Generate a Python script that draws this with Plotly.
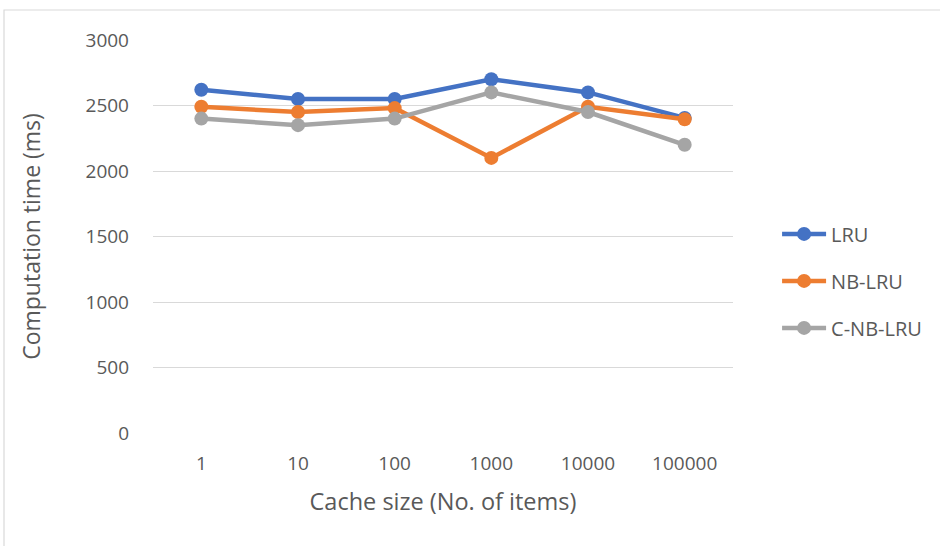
import plotly.graph_objects as go

categories = ["1", "10", "100", "1000", "10000", "100000"]
lru = [2620, 2550, 2550, 2700, 2600, 2405]
nb_lru = [2490, 2450, 2480, 2100, 2490, 2395]
c_nb_lru = [2400, 2350, 2400, 2600, 2450, 2200]
y_ticks = [0, 500, 1000, 1500, 2000, 2500, 3000]

series = [("LRU", lru, "#4472C4"), ("NB-LRU", nb_lru, "#ED7D31"), ("C-NB-LRU", c_nb_lru, "#A5A5A5")]

fig = go.Figure()
for name, vals, col in series:
    fig.add_trace(go.Scatter(x=categories, y=vals, name=name, mode="lines+markers",
                             legendgroup=name,
                             line=dict(color=col, width=4.5),
                             marker=dict(color=col, size=14)))

font_fam = "Open Sans, Liberation Sans, sans-serif"
W, H = 940, 546
L, R, T, B = 153, 207, 40, 113
pw = W - L - R
ph = H - T - B

fig.update_layout(
    width=W, height=H,
    margin=dict(l=L, r=R, t=T, b=B),
    paper_bgcolor="white", plot_bgcolor="white",
    font=dict(family=font_fam, color="#595959", size=19),
    xaxis=dict(type="category", range=[-0.5, len(categories) - 0.5],
               showgrid=False, zeroline=False, showline=False,
               ticks="", tickfont=dict(size=19), ticklabelstandoff=17,
               title=dict(text="Cache size (No. of items)", font=dict(size=23.5), standoff=18)),
    yaxis=dict(range=[0, 3000], tickvals=y_ticks, showgrid=True, gridcolor="#D9D9D9",
               gridwidth=1.3, zeroline=False, showline=False, ticks="",
               tickfont=dict(size=19), ticklabelstandoff=23,
               title=dict(text="Computation time (ms)", font=dict(size=23), standoff=38)),
    legend=dict(x=1.076, xanchor="left", y=0.387, yanchor="middle", font=dict(size=20),
                itemwidth=44, tracegroupgap=18, bgcolor="rgba(0,0,0,0)"),
    showlegend=True,
)

fig.add_shape(type="rect", xref="paper", yref="paper",
              x0=(4 - L) / pw, x1=(W + 10 - L) / pw,
              y0=-(H + 10 - T - ph) / ph, y1=(H - 10 - B) / ph,
              line=dict(color="#D9D9D9", width=1.2), fillcolor="rgba(0,0,0,0)", layer="below")

fig.write_html("out.html", config={"displayModeBar": False},
               post_script="document.body.style.margin='0';")
